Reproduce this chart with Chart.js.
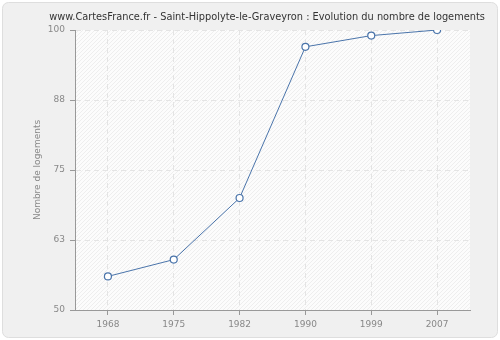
<!DOCTYPE html>
<html>
<head>
<meta charset="utf-8">
<script src="https://cdn.jsdelivr.net/npm/chart.js@4/dist/chart.umd.min.js"></script>
<style>
  html, body { margin: 0; padding: 0; background: #fff; }
  #wrap { width: 500px; height: 340px; }
</style>
</head>
<body>
<div id="wrap"><canvas id="myChart" width="500" height="340"></canvas></div>
<script>
const years = ['1968', '1975', '1982', '1990', '1999', '2007'];
const logements = [56, 59, 70, 97, 99, 100];
const yTicks = [50, 62.5, 75, 87.5, 100];
const titre = 'www.CartesFrance.fr - Saint-Hippolyte-le-Graveyron : Evolution du nombre de logements';

const fontFamily = "'DejaVu Sans', sans-serif";

// grey rounded frame behind everything, hatched white plot area
const frame = {
    id: 'frame',
    beforeDraw(chart) {
        const c = chart.ctx;
        const a = chart.chartArea;
        c.save();
        c.fillStyle = '#fff';
        c.fillRect(0, 0, chart.width, chart.height);
        c.beginPath();
        c.roundRect(2.5, 2.5, chart.width - 5, chart.height - 5, 6);
        c.fillStyle = '#f0f0f0';
        c.fill();
        c.strokeStyle = '#dedede';
        c.lineWidth = 1;
        c.stroke();

        c.fillStyle = '#fcfcfc';
        c.fillRect(a.left, a.top, a.right - a.left, a.bottom - a.top);
        c.beginPath();
        c.rect(a.left, a.top, a.right - a.left, a.bottom - a.top);
        c.clip();
        c.strokeStyle = '#eeeeee';
        c.lineWidth = 1;
        const h = a.bottom - a.top;
        for (let x = a.left - h; x < a.right; x += 4) {
            c.beginPath();
            c.moveTo(x, a.bottom);
            c.lineTo(x + h, a.top);
            c.stroke();
        }
        c.restore();
    },
    afterDraw(chart) {
        const c = chart.ctx;
        c.save();
        c.font = "9.8px 'DejaVu Sans', sans-serif";
        c.fillStyle = '#333';
        c.textAlign = 'center';
        c.textBaseline = 'middle';
        c.fillText(titre, 267, 17);
        c.restore();
    }
};

var ctx = document.getElementById('myChart').getContext('2d');

var myChart = new Chart(ctx, {
    type: 'line',
    data: {
        labels: years,
        datasets: [{
            data: logements,
            borderColor: '#4a74aa',
            borderWidth: 1,
            pointBackgroundColor: '#fff',
            pointBorderColor: '#4a74aa',
            pointBorderWidth: 1.2,
            pointRadius: 3.5,
            tension: 0
        }]
    },
    plugins: [frame],
    options: {
        responsive: false,
        animation: false,
        layout: { padding: { top: 30, right: 30, bottom: 0, left: 0 } },
        plugins: {
            legend: { display: false },
            tooltip: { enabled: false },
            title: { display: false }
        },
        scales: {
            x: {
                offset: true,
                afterFit(s) { s.height = 30; },
                border: { color: '#999', width: 1, dash: [5, 4] },
                grid: {
                    offset: false,
                    color: '#e4e4e4',
                    tickColor: '#999',
                    tickLength: 5
                },
                ticks: {
                    color: '#888',
                    padding: 4,
                    font: { family: fontFamily, size: 9 }
                }
            },
            y: {
                min: 50,
                max: 100,
                afterFit(s) { s.width = 75; },
                afterBuildTicks(s) { s.ticks = yTicks.map(v => ({ value: v })); },
                border: { color: '#999', width: 1, dash: [5, 4] },
                grid: {
                    color: '#e4e4e4',
                    tickColor: '#999',
                    tickLength: 5
                },
                ticks: {
                    color: '#888',
                    padding: 5,
                    font: { family: fontFamily, size: 9 },
                    callback: v => Math.round(v)
                },
                title: {
                    display: true,
                    text: 'Nombre de logements',
                    color: '#888',
                    font: { family: fontFamily, size: 9 },
                    padding: { top: 32, bottom: 0 }
                }
            }
        }
    }
});
</script>
</body>
</html>
